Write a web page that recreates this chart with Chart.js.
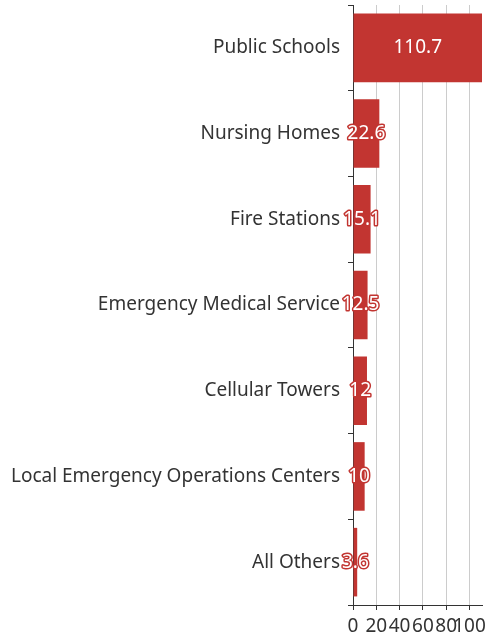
<!DOCTYPE html>
<html><head><meta charset="utf-8">
<script src="https://cdn.jsdelivr.net/npm/chart.js@4/dist/chart.umd.min.js"></script>
<style>html,body{margin:0;padding:0;background:#fff}#wrap{width:486px;height:639px}</style>
</head><body><div id="wrap"><canvas id="c" width="486" height="639"></canvas></div>
<script>
const categories = ["Public Schools","Nursing Homes","Fire Stations","Emergency Medical Service","Cellular Towers","Local Emergency Operations Centers","All Others"];
const values = [110.7, 22.6, 15.1, 12.5, 12, 10, 3.6];
const xTicks = [0,20,40,60,80,100];
const FONT = "'Noto Sans', sans-serif";
const labelPlugin = {
  id:'vlabels',
  afterDatasetsDraw(chart){
    const ctx = chart.ctx;
    const meta = chart.getDatasetMeta(0);
    ctx.save();
    ctx.font = "19px " + FONT;
    ctx.textAlign = 'center';
    ctx.textBaseline = 'middle';
    ctx.lineJoin = 'round';
    meta.data.forEach((bar,i)=>{
      const cx = (bar.x + bar.base)/2, cy = bar.y;
      const t = String(values[i]);
      ctx.strokeStyle = '#c23531';
      ctx.lineWidth = 3;
      ctx.strokeText(t,cx,cy);
      ctx.fillStyle = '#fff';
      ctx.fillText(t,cx,cy);
    });
    ctx.restore();
  }
};
new Chart(document.getElementById('c'),{
  type:'bar',
  data:{labels:categories,datasets:[{data:values,backgroundColor:'#c23531',barPercentage:0.8,categoryPercentage:1}]},
  options:{
    indexAxis:'y',responsive:false,animation:false,
    layout:{padding:{top:5,right:4,left:0,bottom:0}},
    plugins:{legend:{display:false},tooltip:{enabled:false}},
    scales:{
      y:{
        type:'category',offset:true,
        grid:{offset:true,drawOnChartArea:false,color:'#333',tickLength:5,tickColor:'#333'},
        border:{color:'#333',width:1},
        ticks:{color:'#333',font:{family:FONT,size:19},padding:8,autoSkip:false},
        afterFit(s){s.width=353;s.paddingTop=0;s.paddingBottom=0;}
      },
      x:{
        min:0,max:110.7,
        afterBuildTicks(s){s.ticks = xTicks.map(v=>({value:v}));},
        grid:{color:'#ccc',tickLength:5,tickColor:'#333'},
        border:{color:'#333',width:1},
        ticks:{color:'#333',font:{family:FONT,size:19},padding:5,autoSkip:false,maxRotation:0,minRotation:0},
        afterFit(s){s.height=34;s.paddingLeft=0;s.paddingRight=0;}
      }
    }
  },
  plugins:[labelPlugin]
});
</script></body></html>
